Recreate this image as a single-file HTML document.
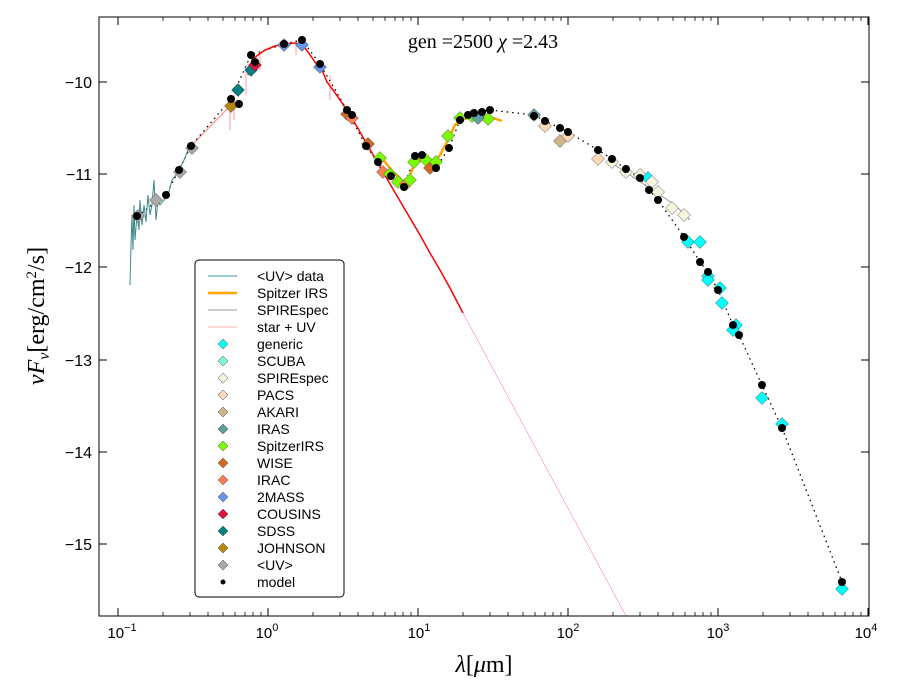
<!DOCTYPE html>
<html><head><meta charset="utf-8"><style>
body{margin:0;background:#fff;}
svg{display:block;font-family:"Liberation Sans",sans-serif;}
.s{font-family:"Liberation Serif",serif;}
</style></head><body>
<svg width="900" height="700" viewBox="0 0 900 700">
<defs>
<path id="d" d="M0,-6.5L6.5,0L0,6.5L-6.5,0Z" stroke="#444" stroke-width="0.5"/>
<path id="ds" d="M0,-5L5,0L0,5L-5,0Z" stroke="#444" stroke-width="0.5"/>
<clipPath id="c"><rect x="99" y="17" width="770" height="599"/></clipPath>
</defs>
<rect width="900" height="700" fill="#fff"/>
<g clip-path="url(#c)">
<polyline fill="none" stroke="#000" stroke-width="1.3" stroke-dasharray="1.5,4" points="137,216 166,195 179,170 191,146 231,99 251,55 284,44 302,40 320,64 347,110 366,146 378,162 391,176 404,187 415,156 436,168 449,148 460,120 474,113 490,110 534,115 545,121 560,128 568,132 598,150 612,159 626,169 640,178 649,190 658,200 684,237 700,262 708,272 718,290 733,325 739,335 762,385 782,428 842,582"/>
<polyline fill="none" stroke="#f00" stroke-width="1" stroke-opacity="0.5" points="191,146 231,105 238,100"/>
<polyline fill="none" stroke="#f00" stroke-width="1.5" points="248,75 252,60 258,55 265,50 275,46 285,44 295,43 302,44 308,52 315,62 322,70 327,82 333,90 340,100 348,112 356,125 364,139 372,153 380,167 390,184 400,201 410,218 420,235 430,253 440,270 450,288 463,313"/>
<line x1="463" y1="313" x2="626" y2="616" stroke="#f00" stroke-width="0.5" stroke-opacity="0.6"/>
<g stroke="#f33" stroke-width="0.8" stroke-opacity="0.6">
<line x1="230" y1="95" x2="230" y2="130"/><line x1="234" y1="95" x2="234" y2="120"/><line x1="246" y1="70" x2="246" y2="95"/>
<line x1="260" y1="52" x2="260" y2="70"/><line x1="296" y1="42" x2="296" y2="55"/><line x1="330" y1="75" x2="330" y2="100"/>
</g>
<polyline fill="none" stroke="#3a8a8a" stroke-width="1" points="130,285 131,245 132,215 133,250 134,205 135,240 137,215 139,230 140,200 142,225 144,205 146,222 148,195 150,215 152,205 154,180 156,220 158,200 160,205 164,200 168,196 172,180 176,175 180,168 184,160 188,150 192,145"/>
<polyline fill="none" stroke="#ffa500" stroke-width="2.5" points="377,155 385,162 393,172 400,178 405,185 410,175 416,160 424,158 432,165 440,155 448,140 455,125 462,119 470,118 478,117 490,117 502,121"/>
<polyline fill="none" stroke="#999" stroke-width="1" points="615,165 630,175 645,185 660,195 675,205 690,220"/>
<use href="#d" x="138" y="216" fill="#aaa"/><use href="#d" x="156" y="200" fill="#aaa"/><use href="#d" x="180" y="172" fill="#aaa"/><use href="#d" x="192" y="148" fill="#aaa"/>
<use href="#d" x="231" y="106" fill="#b8860b"/><use href="#d" x="238" y="90" fill="#008080"/><use href="#d" x="251" y="70" fill="#008080"/><use href="#d" x="255" y="65" fill="#dc143c"/>
<use href="#d" x="284" y="45" fill="#6495ed"/><use href="#d" x="302" y="45" fill="#6495ed"/><use href="#d" x="320" y="67" fill="#6495ed"/>
<use href="#d" x="347" y="114" fill="#d2691e"/><use href="#d" x="352" y="118" fill="#ff7f50"/><use href="#d" x="368" y="144" fill="#d2691e"/><use href="#d" x="383" y="172" fill="#ff7f50"/>
<use href="#d" x="380" y="158" fill="#7cfc00"/><use href="#d" x="390" y="174" fill="#7cfc00"/><use href="#d" x="398" y="182" fill="#7cfc00"/><use href="#d" x="406" y="184" fill="#ff7f50"/><use href="#d" x="410" y="180" fill="#7cfc00"/><use href="#d" x="414" y="162" fill="#7cfc00"/><use href="#d" x="426" y="160" fill="#7cfc00"/><use href="#d" x="430" y="168" fill="#d2691e"/><use href="#d" x="436" y="162" fill="#7cfc00"/><use href="#d" x="448" y="136" fill="#7cfc00"/><use href="#d" x="460" y="118" fill="#7cfc00"/><use href="#d" x="472" y="116" fill="#7cfc00"/><use href="#d" x="488" y="119" fill="#7cfc00"/><use href="#d" x="478" y="118" fill="#5f9ea0"/>
<use href="#d" x="534" y="115" fill="#5f9ea0"/><use href="#d" x="545" y="126" fill="#ffdab9"/><use href="#d" x="560" y="141" fill="#d2b48c"/><use href="#d" x="568" y="136" fill="#ffdab9"/><use href="#d" x="598" y="159" fill="#ffdab9"/>
<use href="#d" x="612" y="162" fill="#f5f5dc"/><use href="#d" x="626" y="172" fill="#f5f5dc"/><use href="#d" x="640" y="175" fill="#f5f5dc"/><use href="#d" x="648" y="178" fill="#00ffff"/><use href="#d" x="652" y="182" fill="#f5f5dc"/><use href="#d" x="658" y="192" fill="#f5f5dc"/><use href="#d" x="672" y="208" fill="#f5f5dc"/><use href="#d" x="684" y="215" fill="#f5f5dc"/>
<use href="#d" x="688" y="242" fill="#00ffff"/><use href="#d" x="700" y="242" fill="#00ffff"/><use href="#d" x="708" y="276" fill="#00ffff"/><use href="#d" x="708" y="280" fill="#00ffff"/><use href="#d" x="720" y="288" fill="#00ffff"/><use href="#d" x="722" y="303" fill="#00ffff"/><use href="#d" x="736" y="325" fill="#00ffff"/><use href="#d" x="733" y="330" fill="#00ffff"/><use href="#d" x="762" y="398" fill="#00ffff"/><use href="#d" x="782" y="424" fill="#00ffff"/><use href="#d" x="842" y="589" fill="#00ffff"/>
<g fill="#000">
<circle cx="137" cy="216" r="4"/><circle cx="166" cy="195" r="4"/><circle cx="179" cy="170" r="4"/><circle cx="191" cy="146" r="4"/><circle cx="231" cy="99" r="4"/><circle cx="239" cy="104" r="4"/><circle cx="251" cy="55" r="4"/><circle cx="255" cy="62" r="4"/><circle cx="284" cy="44" r="4"/><circle cx="302" cy="40" r="4"/><circle cx="320" cy="64" r="4"/><circle cx="347" cy="110" r="4"/><circle cx="352" cy="115" r="4"/><circle cx="366" cy="146" r="4"/><circle cx="378" cy="162" r="4"/><circle cx="391" cy="176" r="4"/><circle cx="404" cy="187" r="4"/><circle cx="415" cy="156" r="4"/><circle cx="422" cy="155" r="4"/><circle cx="436" cy="168" r="4"/><circle cx="449" cy="148" r="4"/><circle cx="460" cy="120" r="4"/><circle cx="468" cy="115" r="4"/><circle cx="474" cy="113" r="4"/><circle cx="482" cy="112" r="4"/><circle cx="490" cy="110" r="4"/><circle cx="534" cy="116" r="4"/><circle cx="545" cy="121" r="4"/><circle cx="560" cy="128" r="4"/><circle cx="568" cy="132" r="4"/><circle cx="598" cy="150" r="4"/><circle cx="612" cy="159" r="4"/><circle cx="626" cy="169" r="4"/><circle cx="640" cy="178" r="4"/><circle cx="649" cy="190" r="4"/><circle cx="658" cy="200" r="4"/><circle cx="684" cy="237" r="4"/><circle cx="700" cy="262" r="4"/><circle cx="708" cy="272" r="4"/><circle cx="718" cy="290" r="4"/><circle cx="733" cy="325" r="4"/><circle cx="739" cy="335" r="4"/><circle cx="762" cy="385" r="4"/><circle cx="782" cy="428" r="4"/><circle cx="842" cy="582" r="4"/>
</g>
</g>
<rect x="99" y="17" width="770" height="599" fill="none" stroke="#000" stroke-width="1"/>
<g stroke="#000" stroke-width="1">
<line x1="118" y1="616" x2="118" y2="608"/><line x1="268" y1="616" x2="268" y2="608"/><line x1="418" y1="616" x2="418" y2="608"/><line x1="568" y1="616" x2="568" y2="608"/><line x1="718" y1="616" x2="718" y2="608"/><line x1="868" y1="616" x2="868" y2="608"/>
<line x1="118" y1="17" x2="118" y2="25"/><line x1="268" y1="17" x2="268" y2="25"/><line x1="418" y1="17" x2="418" y2="25"/><line x1="568" y1="17" x2="568" y2="25"/><line x1="718" y1="17" x2="718" y2="25"/><line x1="868" y1="17" x2="868" y2="25"/>
<line x1="99" y1="82" x2="107" y2="82"/><line x1="99" y1="174" x2="107" y2="174"/><line x1="99" y1="267" x2="107" y2="267"/><line x1="99" y1="360" x2="107" y2="360"/><line x1="99" y1="452" x2="107" y2="452"/><line x1="99" y1="544" x2="107" y2="544"/>
<line x1="869" y1="82" x2="861" y2="82"/><line x1="869" y1="174" x2="861" y2="174"/><line x1="869" y1="267" x2="861" y2="267"/><line x1="869" y1="360" x2="861" y2="360"/><line x1="869" y1="452" x2="861" y2="452"/><line x1="869" y1="544" x2="861" y2="544"/>
</g>
<g stroke="#000" stroke-width="0.8">
<path d="M163,616v-4M190,616v-4M208,616v-4M223,616v-4M235,616v-4M245,616v-4M253,616v-4M261,616v-4M313,616v-4M340,616v-4M358,616v-4M373,616v-4M385,616v-4M395,616v-4M403,616v-4M411,616v-4M463,616v-4M490,616v-4M508,616v-4M523,616v-4M535,616v-4M545,616v-4M553,616v-4M561,616v-4M613,616v-4M640,616v-4M658,616v-4M673,616v-4M685,616v-4M695,616v-4M703,616v-4M711,616v-4M763,616v-4M790,616v-4M808,616v-4M823,616v-4M835,616v-4M845,616v-4M853,616v-4M861,616v-4"/>
<path d="M163,17v4M190,17v4M208,17v4M223,17v4M235,17v4M245,17v4M253,17v4M261,17v4M313,17v4M340,17v4M358,17v4M373,17v4M385,17v4M395,17v4M403,17v4M411,17v4M463,17v4M490,17v4M508,17v4M523,17v4M535,17v4M545,17v4M553,17v4M561,17v4M613,17v4M640,17v4M658,17v4M673,17v4M685,17v4M695,17v4M703,17v4M711,17v4M763,17v4M790,17v4M808,17v4M823,17v4M835,17v4M845,17v4M853,17v4M861,17v4"/>
</g>
<g font-size="15" fill="#000" text-anchor="middle">
<text x="122" y="638">10<tspan font-size="11" dy="-7">−1</tspan></text>
<text x="267" y="638">10<tspan font-size="11" dy="-7">0</tspan></text>
<text x="419" y="638">10<tspan font-size="11" dy="-7">1</tspan></text>
<text x="568" y="638">10<tspan font-size="11" dy="-7">2</tspan></text>
<text x="718" y="638">10<tspan font-size="11" dy="-7">3</tspan></text>
<text x="866" y="638">10<tspan font-size="11" dy="-7">4</tspan></text>
</g>
<g font-size="16" fill="#000" text-anchor="end">
<text x="92" y="88">−10</text><text x="92" y="180">−11</text><text x="92" y="273">−12</text><text x="92" y="366">−13</text><text x="92" y="458">−14</text><text x="92" y="550">−15</text>
</g>
<text class="s" x="483" y="48" font-size="20" text-anchor="middle">gen =2500  <tspan font-style="italic">χ</tspan> =2.43</text>
<text class="s" x="484" y="672" font-size="24" text-anchor="middle"><tspan font-style="italic">λ</tspan>[<tspan font-style="italic">μ</tspan>m]</text>
<text class="s" transform="translate(44,316) rotate(-90)" font-size="24" text-anchor="middle"><tspan font-style="italic">νF</tspan><tspan font-style="italic" font-size="16" dy="5">ν</tspan><tspan dy="-5">[erg/cm</tspan><tspan font-size="15" dy="-8">2</tspan><tspan dy="8">/s]</tspan></text>
<rect x="195" y="260" width="149" height="337" rx="4" fill="#fff" stroke="#000" stroke-width="1"/>
<g stroke-width="1">
<line x1="208" y1="276" x2="237" y2="276" stroke="#3a9a9a"/>
<line x1="208" y1="293" x2="237" y2="293" stroke="#ffa500" stroke-width="2.5"/>
<line x1="208" y1="310" x2="237" y2="310" stroke="#999"/>
<line x1="208" y1="327" x2="237" y2="327" stroke="#fcc" stroke-width="1.5"/>
</g>
<use href="#ds" x="223" y="344" fill="#00ffff"/><use href="#ds" x="223" y="361" fill="#7fffd4"/><use href="#ds" x="223" y="378" fill="#f5f5dc"/><use href="#ds" x="223" y="395" fill="#ffdab9"/><use href="#ds" x="223" y="412" fill="#d2b48c"/><use href="#ds" x="223" y="429" fill="#5f9ea0"/><use href="#ds" x="223" y="446" fill="#7cfc00"/><use href="#ds" x="223" y="463" fill="#d2691e"/><use href="#ds" x="223" y="480" fill="#ff7f50"/><use href="#ds" x="223" y="497" fill="#6495ed"/><use href="#ds" x="223" y="514" fill="#dc143c"/><use href="#ds" x="223" y="531" fill="#008080"/><use href="#ds" x="223" y="548" fill="#b8860b"/><use href="#ds" x="223" y="565" fill="#aaa"/>
<circle cx="223" cy="582" r="2.5" fill="#000"/>
<g font-size="14" fill="#000">
<text x="257" y="281">&lt;UV&gt; data</text><text x="257" y="298">Spitzer IRS</text><text x="257" y="315">SPIREspec</text><text x="257" y="332">star + UV</text>
<text x="257" y="349">generic</text><text x="257" y="366">SCUBA</text><text x="257" y="383">SPIREspec</text><text x="257" y="400">PACS</text><text x="257" y="417">AKARI</text><text x="257" y="434">IRAS</text><text x="257" y="451">SpitzerIRS</text><text x="257" y="468">WISE</text><text x="257" y="485">IRAC</text><text x="257" y="502">2MASS</text><text x="257" y="519">COUSINS</text><text x="257" y="536">SDSS</text><text x="257" y="553">JOHNSON</text><text x="257" y="570">&lt;UV&gt;</text><text x="257" y="587">model</text>
</g>
</svg>
</body></html>
